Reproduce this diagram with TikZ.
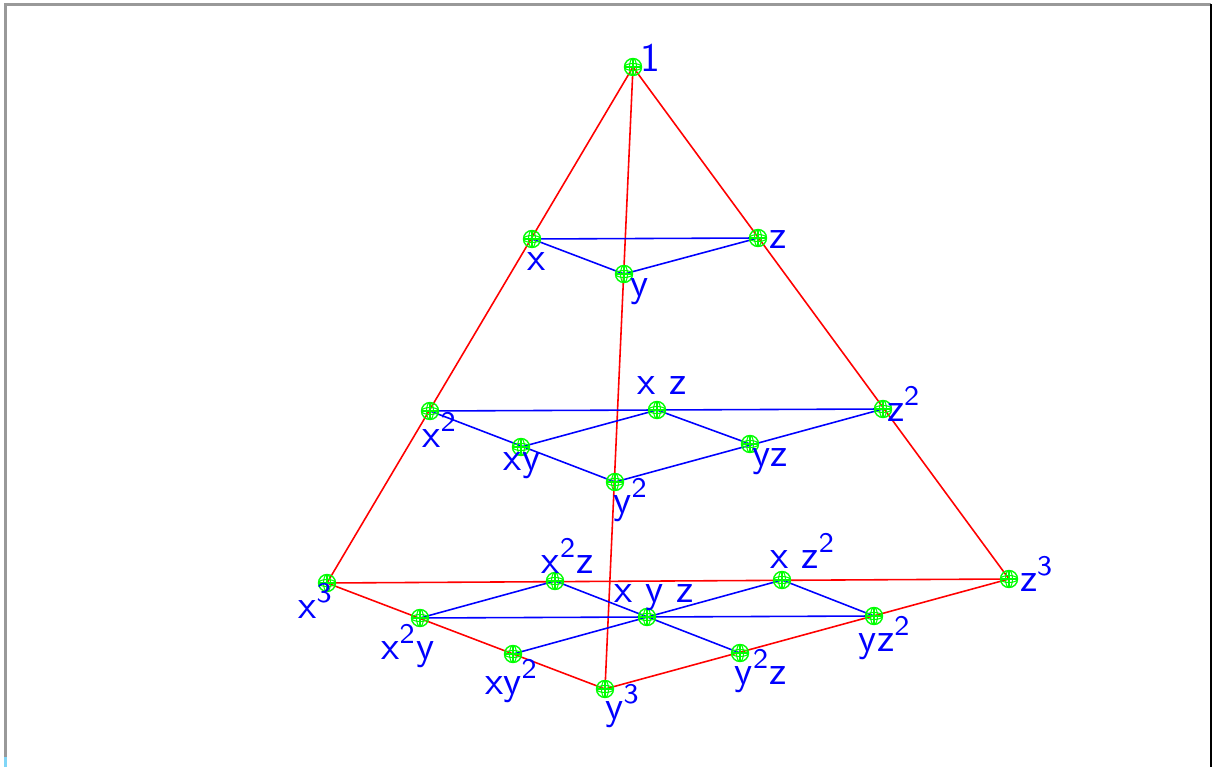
\documentclass[tikz,border=0pt]{standalone}
\usetikzlibrary{backgrounds}

\tikzset{
  vtx/.style={circle, draw=green, minimum size=0.17cm, inner sep=0pt,
    path picture={
      \draw[green, line width=0.3pt] (path picture bounding box.center) ellipse (0.085cm and 0.035cm);
      \draw[green, line width=0.3pt] (path picture bounding box.center) ellipse (0.035cm and 0.085cm);
      \draw[green, line width=0.3pt] (path picture bounding box.west) -- (path picture bounding box.east);
      \draw[green, line width=0.3pt] (path picture bounding box.north) -- (path picture bounding box.south);
    }},
  lbl/.style={text=blue, font=\sffamily\fontsize{11.5}{13}\selectfont, inner sep=0pt},
  edge/.style={draw=red, line width=0.45pt},
  link/.style={draw=blue, line width=0.45pt}
}

\begin{document}
\begin{tikzpicture}[x=0.01cm, y=-0.01cm]
  \useasboundingbox (0,0) rectangle (1214,767);
  % frame
  \draw[gray!80, line width=0.6pt] (5.5,767) -- (5.5,4.5) -- (1211,4.5);
  \draw[black, line width=0.6pt] (1211,4.5) -- (1211,767);
  \draw[cyan!50, line width=0.6pt] (5.5,757) -- (5.5,767);

  % monomials, degree 0 to 3
  \node[vtx] (n1) at (633,67) {};
  \node[vtx] (x) at (532,239) {};
  \node[vtx] (y) at (624,274) {};
  \node[vtx] (z) at (758,238) {};
  \node[vtx] (xx) at (430,411) {};
  \node[vtx] (xz) at (657,410) {};
  \node[vtx] (zz) at (883,409) {};
  \node[vtx] (xy) at (521,447) {};
  \node[vtx] (yz) at (750,444) {};
  \node[vtx] (yy) at (615,482) {};
  \node[vtx] (xxx) at (327,583) {};
  \node[vtx] (xxz) at (555,581) {};
  \node[vtx] (xzz) at (782,580) {};
  \node[vtx] (zzz) at (1009,579) {};
  \node[vtx] (xxy) at (420,618) {};
  \node[vtx] (xyz) at (647,617) {};
  \node[vtx] (yzz) at (874,616) {};
  \node[vtx] (xyy) at (513,654) {};
  \node[vtx] (yyz) at (740,653) {};
  \node[vtx] (yyy) at (605,689) {};

  \begin{scope}[on background layer]
    % outer tetrahedron
    \draw[edge] (n1.center) -- (xxx.center);
    \draw[edge] (n1.center) -- (zzz.center);
    \draw[edge] (n1.center) -- (yyy.center);
    \draw[edge] (xxx.center) -- (zzz.center);
    \draw[edge] (xxx.center) -- (yyy.center) -- (zzz.center);
    % degree 1
    \draw[link] (x.center) -- (z.center);
    \draw[link] (x.center) -- (y.center) -- (z.center);
    % degree 2
    \draw[link] (xx.center) -- (zz.center);
    \draw[link] (xx.center) -- (yy.center) -- (zz.center);
    \draw[link] (xy.center) -- (xz.center) -- (yz.center);
    % degree 3
    \draw[link] (xxy.center) -- (xxz.center);
    \draw[link] (xzz.center) -- (yzz.center);
    \draw[link] (xxz.center) -- (yyz.center);
    \draw[link] (xxy.center) -- (yzz.center);
    \draw[link] (xyy.center) -- (xzz.center);
  \end{scope}

  % labels
  \node[lbl] (l1) at (650,58) {1};
  \node[lbl] (lx) at (537,262) {x};
  \node[lbl] (ly) at (640,292) {y};
  \node[lbl] (lz) at (778,240) {z};
  \node[lbl] (lxz) at (662,386) {x z};
  \node[lbl] (lzz) at (904,404) {z\textsuperscript{2}};
  \node[lbl] (lxx) at (440,430) {x\textsuperscript{2}};
  \node[lbl] (lxy) at (522,466) {xy};
  \node[lbl] (lyz) at (770,462) {yz};
  \node[lbl] (lyy) at (631,500) {y\textsuperscript{2}};
  \node[lbl] (lxxx) at (316,601) {x\textsuperscript{3}};
  \node[lbl] (lxxz) at (568,556) {x\textsuperscript{2}z};
  \node[lbl] (lxzz) at (803,551) {x z\textsuperscript{2}};
  \node[lbl] (lzzz) at (1037,574) {z\textsuperscript{3}};
  \node[lbl] (lxyz) at (654,598) {x y z};
  \node[lbl] (lxxy) at (408,646) {x\textsuperscript{2}y};
  \node[lbl] (lxyy) at (512,681) {xy\textsuperscript{2}};
  \node[lbl] (lyyy) at (623,706) {y\textsuperscript{3}};
  \node[lbl] (lyyz) at (761,671) {y\textsuperscript{2}z};
  \node[lbl] (lyzz) at (885,638) {yz\textsuperscript{2}};
\end{tikzpicture}
\end{document}
